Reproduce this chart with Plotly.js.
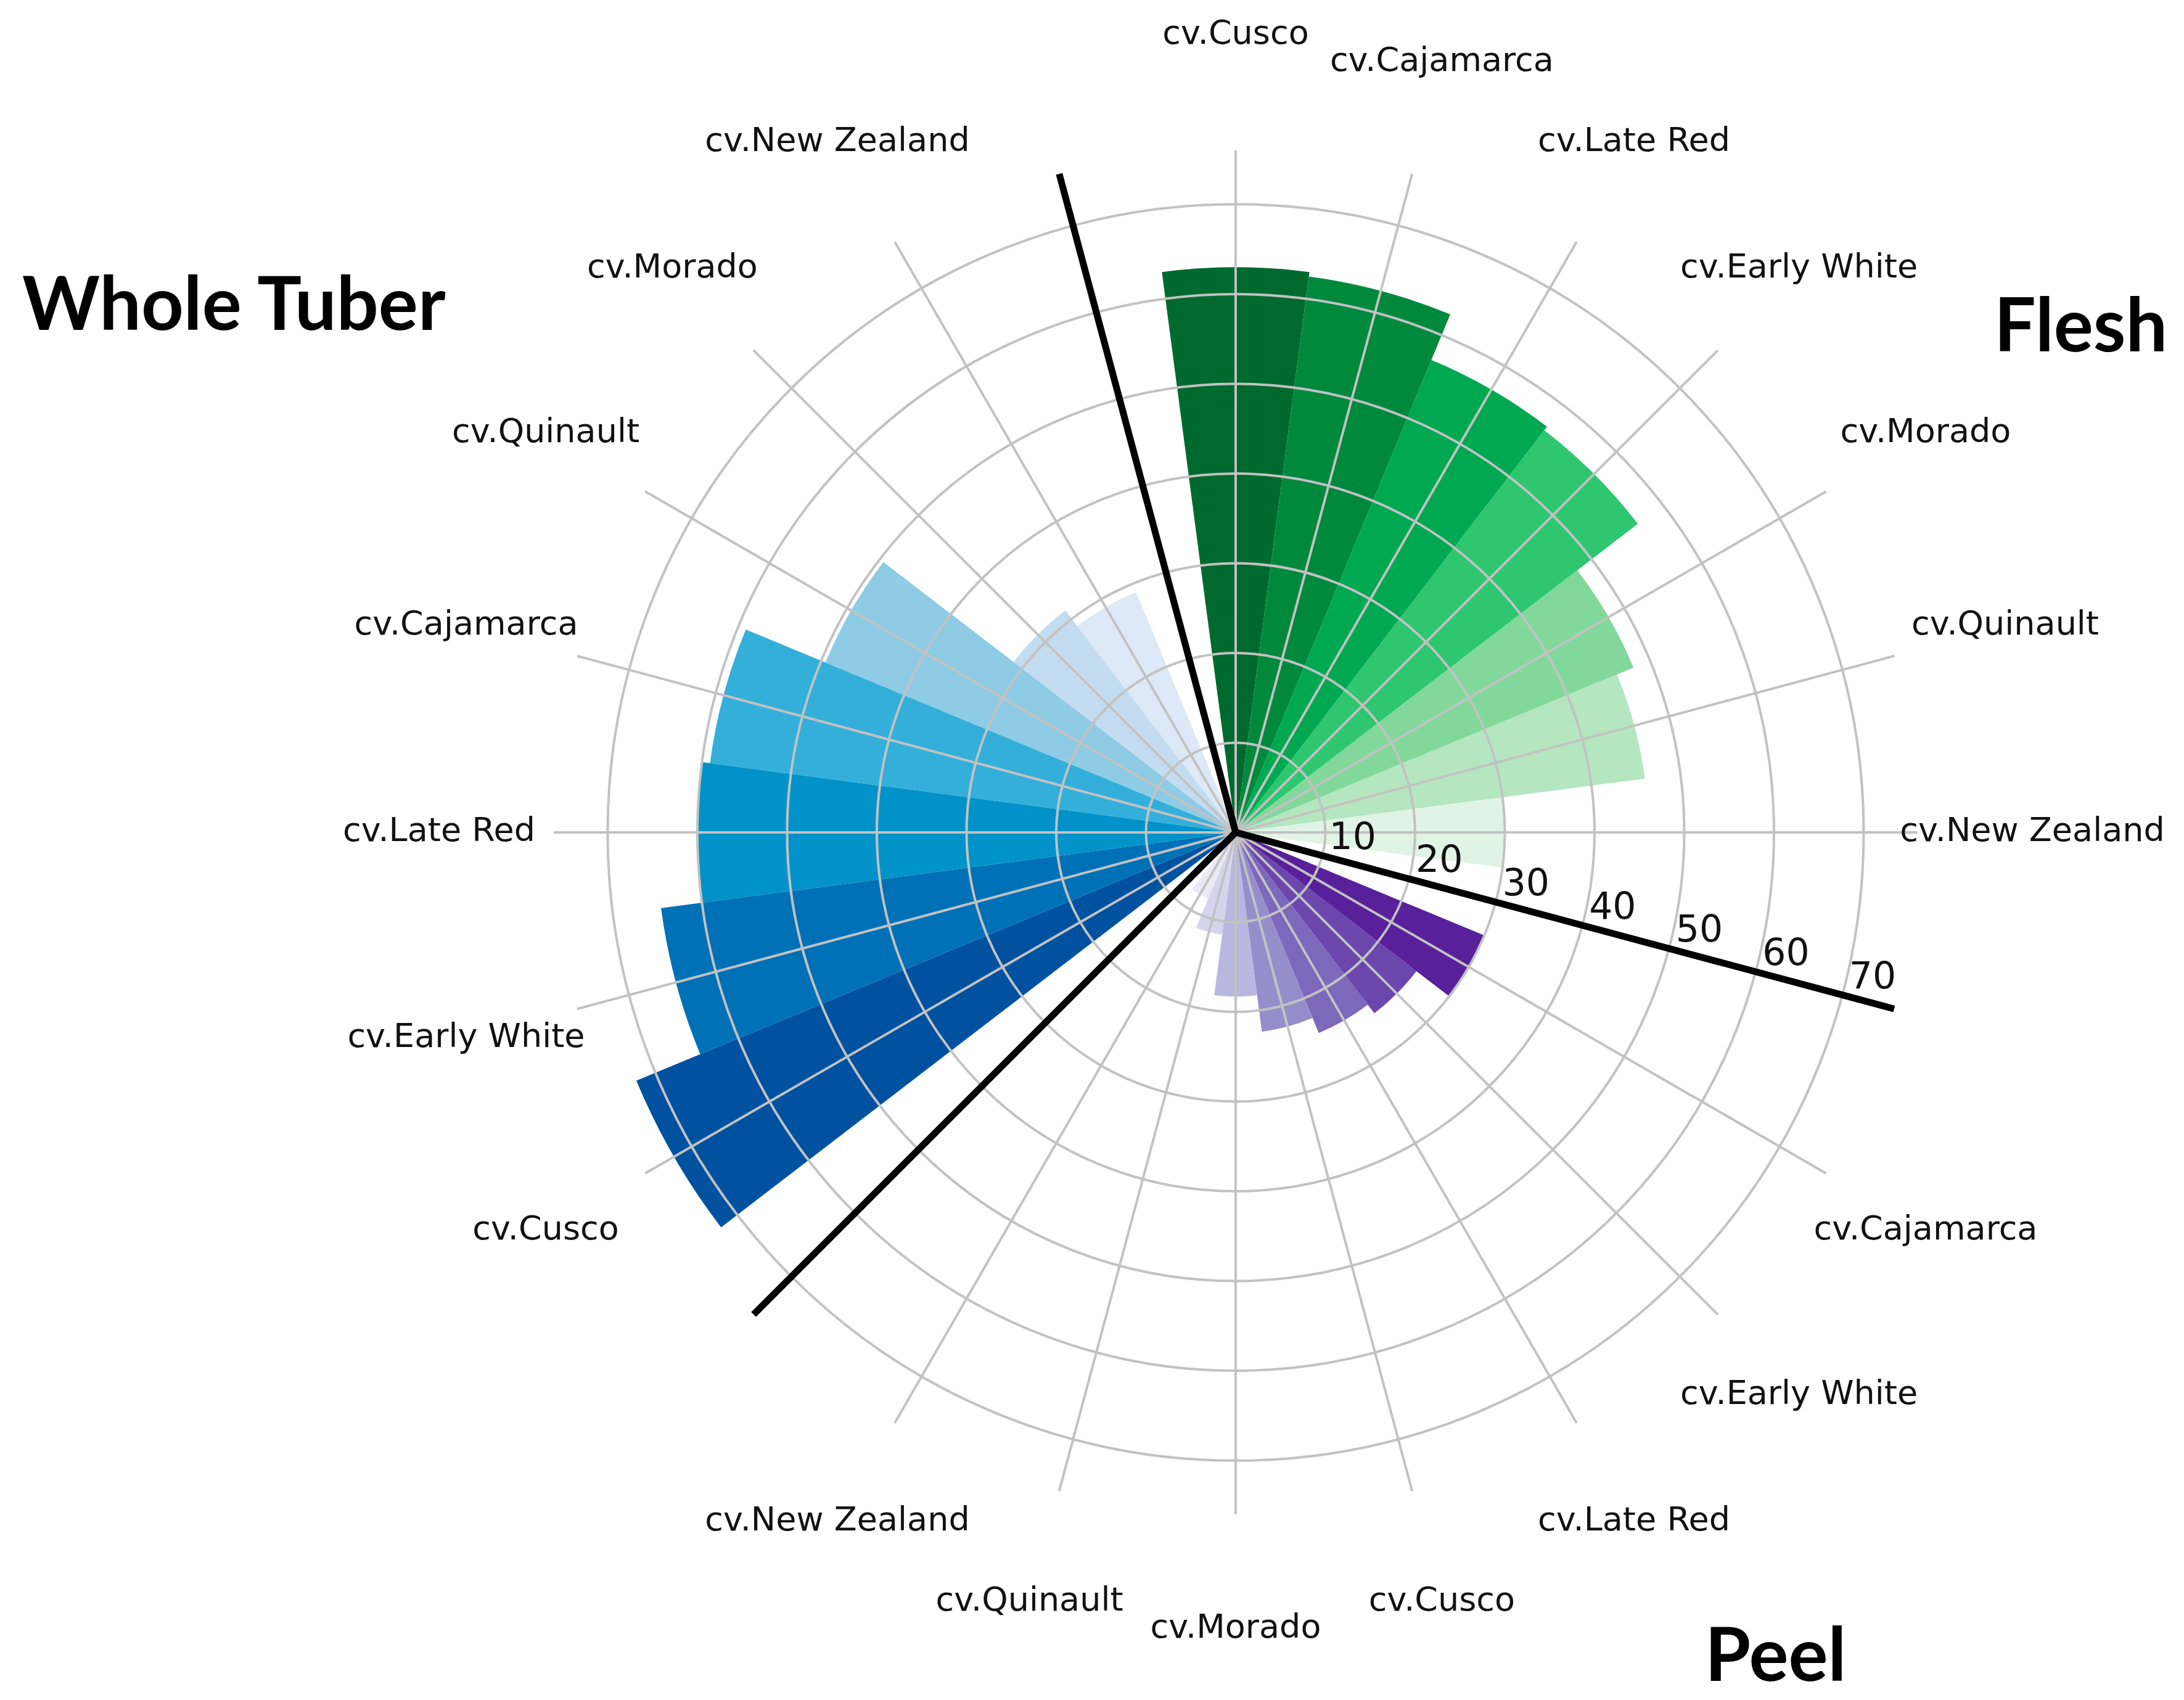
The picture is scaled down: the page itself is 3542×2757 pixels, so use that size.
<!DOCTYPE html>
<html>
<head>
<meta charset="utf-8">
<script src="https://cdn.plot.ly/plotly-3.0.1.min.js"></script>
<style>html,body{margin:0;padding:0;background:#ffffff;}</style>
</head>
<body>
<div id="chart" style="width:3542px;height:2757px;"></div>
<script>
// ---- data ----
const fleshCultivars = ['cv.Cusco', 'cv.Cajamarca', 'cv.Late Red', 'cv.Early White', 'cv.Morado', 'cv.Quinault', 'cv.New Zealand'];
const fleshValues = [63, 62.5, 57, 56.5, 48, 46, 30];
const fleshColors = ['#006a2e', '#00893d', '#00a852', '#2ec66f', '#82d89b', '#b4e6c0', '#e0f3e4'];

const peelCultivars = ['cv.Cajamarca', 'cv.Early White', 'cv.Late Red', 'cv.Cusco', 'cv.Morado', 'cv.Quinault', 'cv.New Zealand'];
const peelValues = [30, 25.4, 24.2, 22.4, 18.3, 11.5, 8];
const peelColors = ['#58219b', '#6a46ad', '#7d68bc', '#958ecb', '#b9b6df', '#d6d4ec', '#ebe9f5'];

const wholeCultivars = ['cv.Cusco', 'cv.Early White', 'cv.Late Red', 'cv.Cajamarca', 'cv.Quinault', 'cv.Morado', 'cv.New Zealand'];
const wholeValues = [72.3, 64.6, 60.1, 59.1, 49.5, 31.2, 29];
const wholeColors = ['#0052a0', '#0071b6', '#0092c9', '#33afda', '#8ecbe4', '#c4dcf0', '#dde9f6'];

const groupNames = ['Flesh', 'Peel', 'Whole Tuber'];
const radialTicks = [10, 20, 30, 40, 50, 60, 70];
const radialMax = 76;
const labelRadius = 88.8;
const labelRangeMax = 90;

// ---- layout of slots around the circle ----
const startAngle = 90, step = 15;
const groups = [
  {cv: fleshCultivars, val: fleshValues, col: fleshColors},
  {cv: peelCultivars, val: peelValues, col: peelColors},
  {cv: wholeCultivars, val: wholeValues, col: wholeColors}
];

const traces = [];
const labelTheta = [], labelText = [], gapTheta = [];
let slot = 0;
groups.forEach((g, gi) => {
  const theta = g.cv.map((_, i) => startAngle - step * (slot + i));
  traces.push({
    type: 'barpolar', subplot: 'polar', name: groupNames[gi],
    r: g.val, theta: theta, width: g.cv.map(() => step),
    marker: {color: g.col, line: {width: 0}},
    showlegend: false, hoverinfo: 'skip'
  });
  theta.forEach((t, i) => { labelTheta.push(t); labelText.push(g.cv[i]); });
  slot += g.cv.length;
  gapTheta.push(startAngle - step * slot);
  slot += 1;
});

// separators (on the overlay subplot, above the bars)
const sepR = [], sepT = [];
gapTheta.forEach((t, i) => {
  if (i) { sepR.push(null); sepT.push(null); }
  sepR.push(0, radialMax); sepT.push(t, t);
});
traces.push({
  type: 'scatterpolar', subplot: 'polar2', mode: 'lines',
  r: sepR, theta: sepT, line: {color: '#000000', width: 11},
  connectgaps: false, showlegend: false, hoverinfo: 'skip', cliponaxis: false
});

// category labels (on a larger concentric subplot with the same scale)
traces.push({
  type: 'scatterpolar', subplot: 'polar3', mode: 'text',
  r: labelTheta.map(() => labelRadius), theta: labelTheta, text: labelText,
  textposition: 'middle center',
  textfont: {family: 'DejaVu Sans', size: 54, color: '#111111'},
  cliponaxis: false, showlegend: false, hoverinfo: 'skip'
});

// geometry: centre (2004, 1350) px, 14.55 px per unit
const W = 3542, H = 2757, cx = 2004, cy = 1350, pxPerUnit = 14.55;
function domainFor(maxR) {
  const R = maxR * pxPerUnit;
  return {x: [(cx - R) / W, (cx + R) / W], y: [(H - cy - R) / H, (H - cy + R) / H]};
}
const dom = domainFor(radialMax);
const dom3 = domainFor(labelRangeMax);
const gridCol = '#c2c2c2';

const layout = {
  width: W, height: H, autosize: false,
  margin: {l: 0, r: 0, t: 0, b: 0, pad: 0},
  paper_bgcolor: '#ffffff',
  showlegend: false,
  polar: {
    domain: dom, bgcolor: '#ffffff', hole: 0,
    radialaxis: {range: [0, radialMax], visible: false},
    angularaxis: {visible: false, rotation: 0, direction: 'counterclockwise'}
  },
  polar2: {
    domain: dom, bgcolor: 'rgba(0,0,0,0)', hole: 0,
    radialaxis: {
      range: [0, radialMax], tickmode: 'array', tickvals: radialTicks,
      ticktext: radialTicks.map(String),
      angle: gapTheta[0], side: 'counterclockwise', tickangle: gapTheta[0],
      showline: false, ticks: '', showgrid: true,
      gridcolor: gridCol, gridwidth: 4,
      tickfont: {family: 'DejaVu Sans', size: 60, color: '#111111'}
    },
    angularaxis: {
      rotation: 0, direction: 'counterclockwise',
      tickmode: 'linear', tick0: 0, dtick: step,
      showticklabels: false, ticks: '', showline: false,
      showgrid: true, gridcolor: gridCol, gridwidth: 4
    }
  },
  polar3: {
    domain: dom3, bgcolor: 'rgba(0,0,0,0)', hole: 0,
    radialaxis: {range: [0, labelRangeMax], visible: false},
    angularaxis: {visible: false, rotation: 0, direction: 'counterclockwise'}
  },
  annotations: [
    {text: '<b>Whole Tuber</b>', xref: 'paper', yref: 'paper', x: 0.0096, y: 0.8225,
     xanchor: 'left', yanchor: 'middle', showarrow: false,
     font: {family: 'Lato', size: 120, color: '#000000'}},
    {text: '<b>Flesh</b>', xref: 'paper', yref: 'paper', x: 0.993, y: 0.810,
     xanchor: 'right', yanchor: 'middle', showarrow: false,
     font: {family: 'Lato', size: 120, color: '#000000'}},
    {text: '<b>Peel</b>', xref: 'paper', yref: 'paper', x: 0.780, y: 0.028,
     xanchor: 'left', yanchor: 'middle', showarrow: false,
     font: {family: 'Lato', size: 120, color: '#000000'}}
  ]
};

Plotly.newPlot('chart', traces, layout, {staticPlot: true, displayModeBar: false});
</script>
</body>
</html>
